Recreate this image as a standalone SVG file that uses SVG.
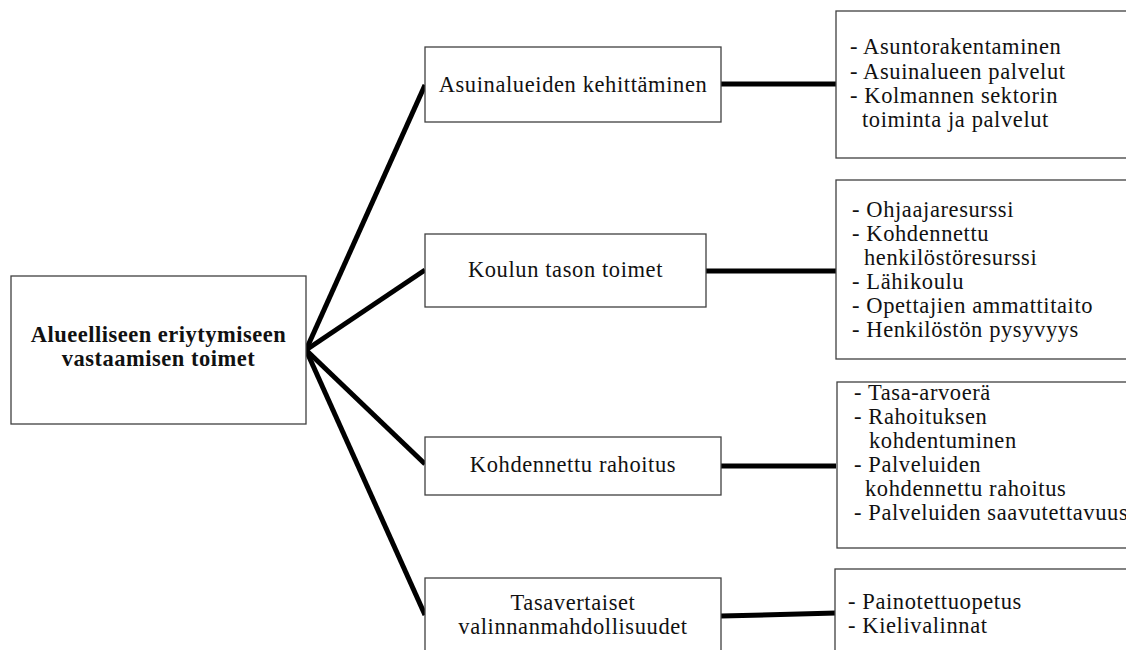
<svg xmlns="http://www.w3.org/2000/svg" width="1126" height="650" viewBox="0 0 1126 650">
<style>
.box{fill:#fff;stroke:#404040;stroke-width:1.3}
text{font-family:'Liberation Serif','DejaVu Serif',serif;font-size:22.5px;letter-spacing:0.6px;fill:#111}
.c{text-anchor:middle}
.b{font-weight:bold;letter-spacing:0.5px}
.conn{stroke:#000;stroke-width:5;fill:none;stroke-linecap:butt}
</style>
<rect width="1126" height="650" fill="#fff"/>
<g id="connectors">
<line class="conn" x1="306" y1="350" x2="425" y2="85"/>
<line class="conn" x1="306" y1="350" x2="425" y2="270"/>
<line class="conn" x1="306" y1="350" x2="425" y2="464"/>
<line class="conn" x1="306" y1="350" x2="425" y2="615"/>
<line class="conn" x1="721" y1="84" x2="836" y2="84"/>
<line class="conn" x1="706" y1="271" x2="836" y2="271"/>
<line class="conn" x1="721" y1="466" x2="836" y2="466"/>
<line class="conn" x1="721" y1="616" x2="836" y2="613"/>
</g>
<g id="root">
<rect class="box" x="11" y="276" width="295" height="148"/>
<text class="c b" x="158.5" y="342">Alueelliseen eriytymiseen</text>
<text class="c b" x="158.5" y="366">vastaamisen toimet</text>
</g>
<g id="asuinalueet">
<rect class="box" x="425" y="47" width="296" height="75"/>
<text class="c" x="573" y="92">Asuinalueiden kehittäminen</text>
</g>
<g id="koulu">
<rect class="box" x="425" y="234" width="281" height="73"/>
<text class="c" x="565.5" y="277">Koulun tason toimet</text>
</g>
<g id="rahoitus">
<rect class="box" x="425" y="437" width="296" height="58"/>
<text class="c" x="573" y="472">Kohdennettu rahoitus</text>
</g>
<g id="valinta">
<rect class="box" x="425" y="578" width="296" height="80"/>
<text class="c" x="573" y="610">Tasavertaiset</text>
<text class="c" x="573" y="634">valinnanmahdollisuudet</text>
</g>
<g id="asuinalueet-list">
<rect class="box" x="836" y="11" width="300" height="147"/>
<text x="850" y="54">- Asuntorakentaminen</text>
<text x="850" y="79">- Asuinalueen palvelut</text>
<text x="850" y="103">- Kolmannen sektorin</text>
<text x="862" y="127">toiminta ja palvelut</text>
</g>
<g id="koulu-list">
<rect class="box" x="836" y="180" width="300" height="179"/>
<text x="852" y="217">- Ohjaajaresurssi</text>
<text x="852" y="241">- Kohdennettu</text>
<text x="864" y="265">henkilöstöresurssi</text>
<text x="852" y="289">- Lähikoulu</text>
<text x="852" y="313">- Opettajien ammattitaito</text>
<text x="852" y="337">- Henkilöstön pysyvyys</text>
</g>
<g id="rahoitus-list">
<rect class="box" x="837" y="382" width="300" height="166"/>
<text x="854" y="400">- Tasa-arvoerä</text>
<text x="854" y="424">- Rahoituksen</text>
<text x="869" y="448">kohdentuminen</text>
<text x="854" y="472">- Palveluiden</text>
<text x="865" y="496">kohdennettu rahoitus</text>
<text x="854" y="520">- Palveluiden saavutettavuus</text>
</g>
<g id="valinta-list">
<rect class="box" x="835" y="569" width="300" height="90"/>
<text x="848" y="609">- Painotettuopetus</text>
<text x="848" y="633">- Kielivalinnat</text>
</g>
</svg>
